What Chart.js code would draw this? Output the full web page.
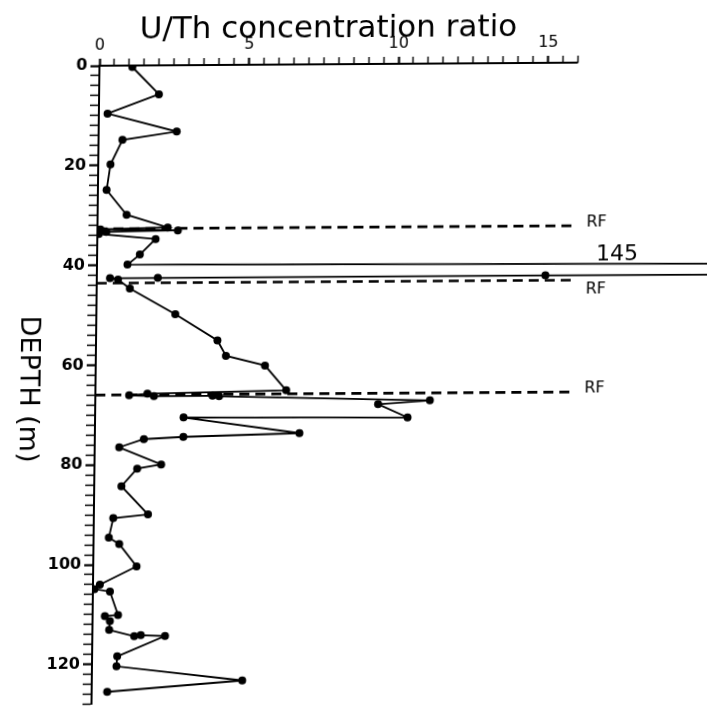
<!DOCTYPE html>
<html>
<head>
<meta charset="utf-8">
<script src="https://cdn.jsdelivr.net/npm/chart.js@4/dist/chart.umd.min.js"></script>
<style>
  html, body { margin:0; padding:0; background:#fff; overflow:hidden; }
  #wrap {
    position:absolute; left:0; top:0;
    width:716px; height:726px;
    /* the scanned figure is slightly skewed */
    transform-origin:0 0;
    transform:matrix(1,-0.0065,-0.0125,1,0.3,0.4);
  }
</style>
</head>
<body>
<div id="wrap"><canvas id="c" width="716" height="726"></canvas></div>
<script>
// depth (m) and U/Th ratio, in drilling order
const depths = [0.3, 5.8, 9.6, 13.3, 14.9, 19.8, 24.9, 29.9, 32.5, 32.8,
  33.1, 33.3, 33.7, 34.8, 37.9, 39.9, 44, 42.6, 42.6, 42.6,
  42.9, 44.7, 49.9, 55.2, 58.3, 60.3, 65.3, 65.8, 66.1, 66.3,
  66.3, 66.4, 67.5, 68.2, 70.9, 70.6, 73.9, 74.5, 74.9, 76.5,
  80.0, 80.8, 84.3, 90.0, 90.7, 94.6, 95.9, 100.4, 104.0, 104.9,
  105.4, 110.1, 110.3, 111.3, 113.1, 114.4, 114.2, 114.4, 118.4, 120.4,
  123.4, 125.5];
const ratios = [1.10, 2.00, 0.29, 2.61, 0.80, 0.41, 0.29, 0.97, 2.35, 0.10,
  2.69, 0.30, 0.05, 1.95, 1.43, 1.02, 145, 15.0, 2.04, 0.44,
  0.71, 1.11, 2.64, 4.06, 4.35, 5.66, 6.38, 1.74, 1.13, 1.96,
  3.92, 4.14, 11.19, 9.46, 10.45, 2.96, 6.84, 2.96, 1.64, 0.82,
  2.23, 1.43, 0.91, 1.81, 0.65, 0.51, 0.86, 1.45, 0.23, 0.05,
  0.57, 0.85, 0.41, 0.58, 0.56, 1.40, 1.62, 2.43, 0.84, 0.82,
  5.03, 0.52];

// RF horizons (dashed)
const rfDepths = [32.7, 43.6, 66.0];
const rfLabels = ["RF", "RF", "RF"];
const rfEnd = 15.9;

const xTickLabels = [0, 5, 10, 15];
const yTickLabels = [0, 20, 40, 60, 80, 100, 120];
const axisEnd = 16;

const xMax = (716 - 100) / 30.1;
const yMax = 128;

const FONT = "DejaVu Sans";

const profile = depths.map((d, i) => ({x: ratios[i], y: d}));

const datasets = [{
  data: profile,
  showLine: true,
  borderColor: "#000",
  borderWidth: 1.8,
  pointRadius: 4,
  pointBackgroundColor: "#000",
  pointBorderColor: "#000",
  pointBorderWidth: 0,
  order: 0
}];

rfDepths.forEach(d => {
  datasets.push({
    data: [{x: 0, y: d}, {x: rfEnd, y: d}],
    showLine: true,
    borderColor: "#000",
    borderWidth: 2.6,
    borderDash: [10, 6],
    pointRadius: 0,
    order: 1
  });
});

/* =====================
   text + partial top axis
===================== */
const extras = {
  id: "extras",
  afterDraw(chart){
    const ctx = chart.ctx;
    const xs = chart.scales.x, ys = chart.scales.y;
    const top = chart.chartArea.top;

    ctx.save();
    ctx.strokeStyle = "#000";
    ctx.lineWidth = 2;
    ctx.beginPath();
    ctx.moveTo(xs.getPixelForValue(0) - 1, top);
    ctx.lineTo(xs.getPixelForValue(axisEnd), top);
    ctx.stroke();

    ctx.fillStyle = "#000";

    // title
    ctx.font = "31px '" + FONT + "'";
    ctx.textAlign = "center";
    ctx.textBaseline = "alphabetic";
    ctx.fillText("U/Th concentration ratio", 328.5, 39);

    // y title, reads top to bottom
    ctx.save();
    ctx.translate(32, 389);
    ctx.rotate(Math.PI / 2);
    ctx.font = "27px '" + FONT + "'";
    ctx.textBaseline = "middle";
    ctx.fillText("DEPTH (m)", 0, 0);
    ctx.restore();

    // RF labels
    ctx.font = "16px '" + FONT + "'";
    ctx.textAlign = "left";
    rfDepths.forEach((d, i) => {
      const py = ys.getPixelForValue(d);
      const below = i === 1;
      ctx.textBaseline = below ? "top" : "alphabetic";
      ctx.fillText(rfLabels[i], 589, py + 1);
    });

    // off-scale value
    ctx.font = "22px '" + FONT + "'";
    ctx.textAlign = "center";
    ctx.textBaseline = "alphabetic";
    ctx.fillText("145", 620, 264);

    ctx.restore();
  }
};

new Chart(document.getElementById("c"), {
  type: "scatter",
  data: {datasets: datasets},
  options: {
    responsive: false,
    animation: false,
    devicePixelRatio: 1,
    layout: {padding: {left: 0, top: 0, right: 0, bottom: 726 - (66 + 4.99 * yMax)}},
    plugins: {legend: {display: false}, tooltip: {enabled: false}},
    scales: {
      x: {
        type: "linear",
        position: "top",
        min: 0,
        max: xMax,
        afterFit: s => { s.height = 66; },
        border: {display: false},
        grid: {
          drawOnChartArea: false,
          tickLength: 7,
          tickColor: c => (c.tick && c.tick.value <= axisEnd + 0.01) ? "#000" : "rgba(0,0,0,0)",
          tickWidth: c => (c.tick && c.tick.value % 5 === 0) ? 2.2 : 1.4
        },
        ticks: {
          stepSize: 0.5,
          autoSkip: false,
          maxRotation: 0,
          padding: 4,
          color: "#000",
          font: {family: FONT, size: 16},
          callback: v => xTickLabels.includes(v) ? String(v) : ""
        }
      },
      y: {
        type: "linear",
        reverse: true,
        min: 0,
        max: yMax,
        afterFit: s => { s.width = 100; },
        border: {display: true, color: "#000", width: 2},
        grid: {
          drawOnChartArea: false,
          tickLength: 9,
          tickColor: "#000",
          tickWidth: c => (c.tick && c.tick.value % 20 === 0) ? 2.2 : 1.5
        },
        ticks: {
          stepSize: 2,
          autoSkip: false,
          padding: 3,
          color: "#000",
          font: {family: FONT, size: 16, weight: "bold"},
          callback: v => yTickLabels.includes(v) ? String(v) : ""
        }
      }
    }
  },
  plugins: [extras]
});
</script>
</body>
</html>
